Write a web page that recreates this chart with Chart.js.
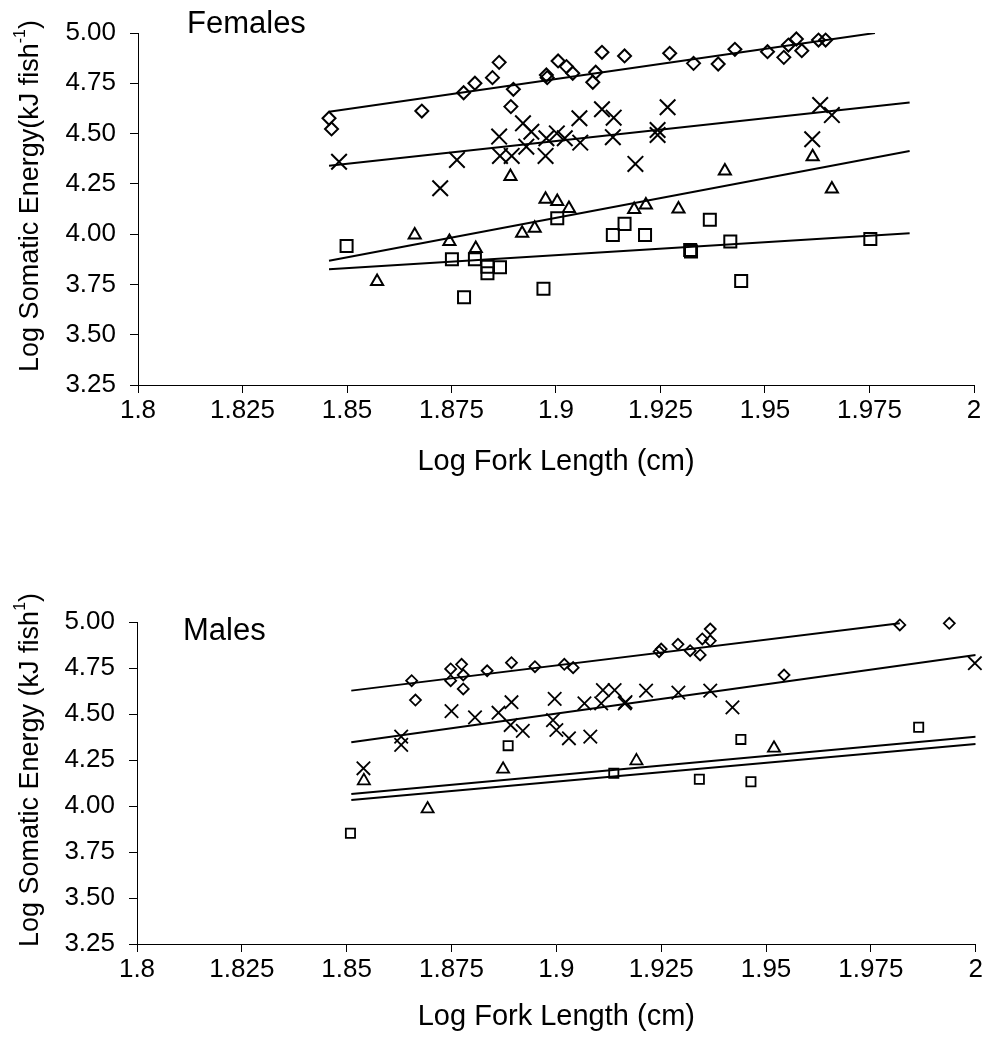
<!DOCTYPE html>
<html>
<head>
<meta charset="utf-8">
<script src="https://cdn.jsdelivr.net/npm/chart.js@4.4.0/dist/chart.umd.min.js"></script>
<style>
  html, body { margin: 0; padding: 0; background: #fff; }
  .panel { position: absolute; left: 0; width: 987px; }
  #topPanel { top: 0; height: 530px; }
  #bottomPanel { top: 530px; height: 529px; }
</style>
</head>
<body>
<div class="panel" id="topPanel"><canvas id="femalesChart"></canvas></div>
<div class="panel" id="bottomPanel"><canvas id="malesChart"></canvas></div>
<script>
// Axis ticks (shared by both panels)
const xTicks = [1.8, 1.825, 1.85, 1.875, 1.9, 1.925, 1.95, 1.975, 2];
const xTickLabels = ['1.8', '1.825', '1.85', '1.875', '1.9', '1.925', '1.95', '1.975', '2'];
const yTicks = [3.25, 3.5, 3.75, 4.0, 4.25, 4.5, 4.75, 5.0];
const yTickLabels = ['3.25', '3.50', '3.75', '4.00', '4.25', '4.50', '4.75', '5.00'];

// Females - diamonds
const fDiamondX = [1.8457, 1.8463, 1.8679, 1.8779, 1.8806, 1.8848, 1.8864, 1.8898, 1.8892, 1.8977, 1.8979, 1.9005, 1.9025, 1.9040, 1.9095, 1.9088, 1.9110, 1.9164, 1.9272, 1.9329, 1.9388, 1.9428, 1.9506, 1.9545, 1.9556, 1.9575, 1.9588, 1.9628, 1.9645];
const fDiamondY = [4.576, 4.523, 4.612, 4.703, 4.750, 4.778, 4.854, 4.720, 4.634, 4.791, 4.778, 4.861, 4.833, 4.800, 4.805, 4.755, 4.904, 4.886, 4.899, 4.849, 4.846, 4.919, 4.907, 4.879, 4.940, 4.970, 4.912, 4.965, 4.965];
// Females - crosses
const fCrossX = [1.8481, 1.8763, 1.8723, 1.8864, 1.8866, 1.8894, 1.8921, 1.8941, 1.8929, 1.8977, 1.8975, 1.9002, 1.9021, 1.9056, 1.9058, 1.9110, 1.9138, 1.9136, 1.9190, 1.9267, 1.9243, 1.9243, 1.9632, 1.9660, 1.9613];
const fCrossY = [4.360, 4.369, 4.228, 4.485, 4.389, 4.389, 4.551, 4.509, 4.435, 4.477, 4.389, 4.501, 4.477, 4.576, 4.455, 4.621, 4.579, 4.482, 4.349, 4.631, 4.518, 4.493, 4.642, 4.592, 4.472];
// Females - triangles
const fTriX = [1.8891, 1.8572, 1.8662, 1.8745, 1.8808, 1.8919, 1.8949, 1.8975, 1.9003, 1.9031, 1.9187, 1.9215, 1.9293, 1.9404, 1.9614, 1.9660];
const fTriY = [4.286, 3.764, 3.996, 3.963, 3.929, 4.004, 4.029, 4.173, 4.162, 4.128, 4.123, 4.145, 4.125, 4.314, 4.385, 4.224];
// Females - squares
const fSquareX = [1.8499, 1.8751, 1.8806, 1.8836, 1.8836, 1.8866, 1.8780, 1.8970, 1.9003, 1.9136, 1.9164, 1.9213, 1.9368, 1.9321, 1.9323, 1.9417, 1.9443, 1.9752];
const fSquareY = [3.941, 3.875, 3.875, 3.838, 3.806, 3.835, 3.686, 3.728, 4.079, 3.996, 4.051, 3.996, 4.071, 3.921, 3.914, 3.963, 3.767, 3.976];
// Females - fitted lines (start/end)
const fDiamondFitX = [1.8457, 1.9763];
const fDiamondFitY = [4.609, 5.0];
const fCrossFitX = [1.8457, 1.9846];
const fCrossFitY = [4.340, 4.654];
const fTriFitX = [1.8457, 1.9846];
const fTriFitY = [3.868, 4.413];
const fSquareFitX = [1.8457, 1.9846];
const fSquareFitY = [3.826, 4.004];

// Males - diamonds
const mDiamondX = [1.8655, 1.8664, 1.8748, 1.8774, 1.8778, 1.8748, 1.8778, 1.8835, 1.8893, 1.8949, 1.9019, 1.9040, 1.9245, 1.9250, 1.9290, 1.9319, 1.9343, 1.9348, 1.9367, 1.9367, 1.9543, 1.9819, 1.9937];
const mDiamondY = [4.681, 4.576, 4.745, 4.770, 4.712, 4.681, 4.636, 4.735, 4.779, 4.757, 4.770, 4.752, 4.839, 4.853, 4.879, 4.844, 4.821, 4.908, 4.962, 4.898, 4.712, 4.984, 4.993];
// Males - crosses
const mCrossX = [1.8540, 1.8630, 1.8630, 1.8750, 1.8806, 1.8862, 1.8893, 1.8891, 1.8920, 1.8996, 1.8992, 1.9000, 1.9030, 1.9067, 1.9081, 1.9111, 1.9107, 1.9139, 1.9163, 1.9165, 1.9214, 1.9291, 1.9367, 1.9420, 1.9998];
const mCrossY = [4.205, 4.377, 4.332, 4.516, 4.482, 4.507, 4.564, 4.440, 4.408, 4.582, 4.467, 4.413, 4.368, 4.558, 4.377, 4.630, 4.558, 4.630, 4.558, 4.565, 4.627, 4.616, 4.627, 4.536, 4.776];
// Males - triangles
const mTriX = [1.8541, 1.8693, 1.8873, 1.9191, 1.9519];
const mTriY = [4.137, 3.984, 4.200, 4.245, 4.314];
// Males - squares
const mSquareX = [1.8509, 1.8885, 1.9137, 1.9440, 1.9341, 1.9464, 1.9864];
const mSquareY = [3.852, 4.328, 4.178, 4.362, 4.145, 4.132, 4.428];
// Males - fitted lines
const mDiamondFitX = [1.8511, 1.9819];
const mDiamondFitY = [4.627, 4.993];
const mCrossFitX = [1.8511, 2.0];
const mCrossFitY = [4.346, 4.821];
const mTriFitX = [1.8511, 2.0];
const mTriFitY = [4.065, 4.377];
const mSquareFitX = [1.8511, 2.0];
const mSquareFitY = [4.033, 4.337];

const FONT_FAMILY = '"Liberation Sans", Arial, sans-serif';

function pairs(xs, ys) {
    return xs.map((x, i) => ({ x: x, y: ys[i] }));
}

function pointSet(xs, ys, style, radius, width) {
    return {
        data: pairs(xs, ys),
        showLine: false,
        pointStyle: style,
        pointRadius: radius,
        pointHoverRadius: radius,
        pointBorderWidth: width,
        pointBorderColor: '#000',
        pointBackgroundColor: 'rgba(0,0,0,0)',
        clip: false
    };
}

function fitLine(xs, ys, width) {
    return {
        data: pairs(xs, ys),
        showLine: true,
        borderColor: '#000',
        borderWidth: width,
        pointRadius: 0,
        fill: false
    };
}

// draws panel label, x title and y title (with superscript)
const panelText = {
    id: 'panelText',
    afterDraw(chart, args, opts) {
        const ctx = chart.ctx;
        const area = chart.chartArea;
        ctx.save();
        ctx.fillStyle = '#000';

        ctx.font = '31px ' + FONT_FAMILY;
        ctx.textAlign = 'left';
        ctx.textBaseline = 'alphabetic';
        ctx.fillText(opts.label, opts.labelX, opts.labelY);

        ctx.font = '29px ' + FONT_FAMILY;
        ctx.textAlign = 'center';
        ctx.textBaseline = 'middle';
        ctx.fillText(opts.xTitle, (area.left + area.right) / 2, area.bottom + opts.xTitleGap);

        ctx.translate(31, (area.top + area.bottom) / 2 - 13);
        ctx.rotate(-Math.PI / 2);
        ctx.textAlign = 'left';
        const mainFont = '27px ' + FONT_FAMILY;
        const supFont = '16px ' + FONT_FAMILY;
        ctx.font = mainFont;
        const w1 = ctx.measureText(opts.yTitle).width;
        const w3 = ctx.measureText(')').width;
        ctx.font = supFont;
        const w2 = ctx.measureText(opts.ySup).width;
        let x = -(w1 + w2 + w3) / 2;
        ctx.font = mainFont;
        ctx.fillText(opts.yTitle, x, 0);
        x += w1;
        ctx.font = supFont;
        ctx.fillText(opts.ySup, x, -10);
        x += w2;
        ctx.font = mainFont;
        ctx.fillText(')', x, 0);
        ctx.restore();
    }
};

function makeChart(canvasId, datasets, geo, text) {
    const ctx = document.getElementById(canvasId);
    return new Chart(ctx, {
        type: 'scatter',
        data: { datasets: datasets },
        options: {
            responsive: true,
            maintainAspectRatio: false,
            animation: false,
            layout: { padding: { top: geo.top, right: 9, left: 0, bottom: 0 } },
            plugins: {
                legend: { display: false },
                tooltip: { enabled: false },
                panelText: text
            },
            scales: {
                x: {
                    type: 'linear',
                    min: 1.8,
                    max: 2,
                    afterBuildTicks: s => { s.ticks = xTicks.map(v => ({ value: v })); },
                    afterFit: s => { s.height = geo.xHeight; },
                    ticks: {
                        callback: (v, i) => xTickLabels[i],
                        color: '#000',
                        font: { family: FONT_FAMILY, size: 26 },
                        padding: 2,
                        maxRotation: 0,
                        autoSkip: false
                    },
                    grid: { drawOnChartArea: false, drawTicks: true, tickLength: 8, color: '#000' },
                    border: { display: true, color: '#000', width: 1 }
                },
                y: {
                    type: 'linear',
                    min: 3.25,
                    max: 5,
                    afterBuildTicks: s => { s.ticks = yTicks.map(v => ({ value: v })); },
                    afterFit: s => { s.width = geo.yWidth; },
                    ticks: {
                        callback: (v, i) => yTickLabels[i],
                        color: '#000',
                        font: { family: FONT_FAMILY, size: 26 },
                        padding: 14
                    },
                    grid: { drawOnChartArea: false, drawTicks: true, tickLength: 8, color: '#000' },
                    border: { display: true, color: '#000', width: 1 }
                }
            }
        },
        plugins: [panelText]
    });
}

makeChart('femalesChart', [
    fitLine(fDiamondFitX, fDiamondFitY, 2),
    fitLine(fCrossFitX, fCrossFitY, 2),
    fitLine(fTriFitX, fTriFitY, 2),
    fitLine(fSquareFitX, fSquareFitY, 2),
    pointSet(fDiamondX, fDiamondY, 'rectRot', 6.5, 2),
    pointSet(fCrossX, fCrossY, 'crossRot', 11, 2),
    pointSet(fTriX, fTriY, 'triangle', 7, 2),
    pointSet(fSquareX, fSquareY, 'rect', 8.5, 2)
], { top: 33, xHeight: 145, yWidth: 138 }, {
    label: 'Females', labelX: 187, labelY: 33,
    xTitle: 'Log Fork Length (cm)', xTitleGap: 77,
    yTitle: 'Log Somatic Energy(kJ fish', ySup: '-1'
});

makeChart('malesChart', [
    fitLine(mDiamondFitX, mDiamondFitY, 2),
    fitLine(mCrossFitX, mCrossFitY, 2),
    fitLine(mTriFitX, mTriFitY, 2),
    fitLine(mSquareFitX, mSquareFitY, 2),
    pointSet(mDiamondX, mDiamondY, 'rectRot', 5.5, 1.8),
    pointSet(mCrossX, mCrossY, 'crossRot', 9.5, 1.8),
    pointSet(mTriX, mTriY, 'triangle', 7, 1.8),
    pointSet(mSquareX, mSquareY, 'rect', 6.5, 1.8)
], { top: 92, xHeight: 115, yWidth: 137 }, {
    label: 'Males', labelX: 183, labelY: 110,
    xTitle: 'Log Fork Length (cm)', xTitleGap: 73,
    yTitle: 'Log Somatic Energy (kJ fish', ySup: '1'
});
</script>
</body>
</html>
